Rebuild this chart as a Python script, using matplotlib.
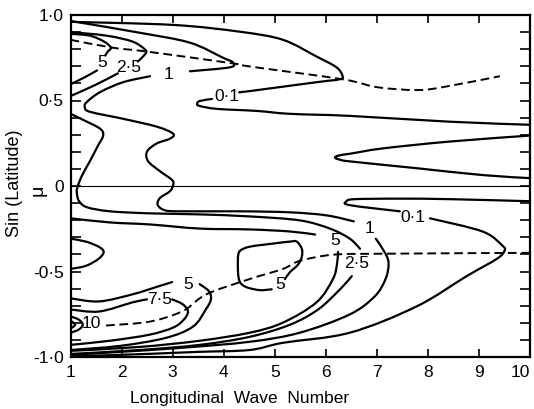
import numpy as np
import matplotlib
matplotlib.use("Agg")
import matplotlib.pyplot as plt
from matplotlib.path import Path
from matplotlib.patches import PathPatch

nan = np.nan

# ---------------- traced contour lines (x = wave number, y = mu) ----------------
# upper hemisphere 0.1 contour (gap at label)
c01u_x = [1.0, 3.01, 4.32, 5.16, 5.82, 6.21, 6.33, 6.27, 5.82, 4.51, 4.32, nan, 3.77, 3.53, 3.48, 3.53, 3.87, 4.65, 5.30, 6.47, 8.43, 10.0]
c01u_y = [0.96, 0.942, 0.902, 0.855, 0.757, 0.694, 0.642, 0.624, 0.607, 0.555, 0.549, nan, 0.509, 0.497, 0.480, 0.468, 0.451, 0.439, 0.422, 0.410, 0.376, 0.358]
# equatorial 0.1 tongue
c01e_x = [10.0, 8.43, 7.12, 6.5, 6.25, 6.18, 6.3, 6.5, 7.78, 9.07, 10.0]
c01e_y = [0.295, 0.26, 0.22, 0.19, 0.178, 0.165, 0.152, 0.143, 0.104, 0.064, 0.046]
# southern 0.1 contour
c01s_x = [10.0, 8.43, 7.45, 6.57, 6.41, 6.47, 7.45, nan, 8.04, 9.07, 9.46, 9.50, 9.35, 8.76, 7.78, 6.47, 5.16, 4.51, 3.5, 2.5, 1.6, 1.0]
c01s_y = [-0.089, -0.077, -0.074, -0.077, -0.089, -0.112, -0.148, nan, -0.189, -0.266, -0.349, -0.379, -0.426, -0.527, -0.704, -0.858, -0.917, -0.959, -0.970, -0.982, -0.991, -0.997]
# the 1 contour
c1_x = [1.0, 2.36, 3.34, 3.98, 4.18, 4.12, 3.34, nan, 2.56, 2.03, 1.58, 1.32, 1.28, 1.38, 2.03, 2.69, 3.01, 2.95, 2.69, 2.50, 2.52, 2.75, 2.99, 3.01,
        2.95, 2.75, 2.71, 2.85, 3.14, 4.32, 5.30, 6.02, 6.55, nan, 6.98, 7.17, 7.23, 7.17, 6.96, 6.47, 5.49, 4.51, 3.14, 1.97, 1.0]
c1_y = [0.965, 0.896, 0.838, 0.751, 0.723, 0.694, 0.671, nan, 0.642, 0.607, 0.549, 0.491, 0.462, 0.434, 0.393, 0.347, 0.306, 0.277, 0.249, 0.202, 0.145, 0.087, 0.035, 0.006,
        -0.030, -0.071, -0.112, -0.142, -0.148, -0.148, -0.154, -0.172, -0.207, nan, -0.308, -0.396, -0.456, -0.544, -0.645, -0.751, -0.858, -0.911, -0.947, -0.970, -0.988]
# 2.5 contours
c25u_x = [1.0, 1.71, 2.22, 2.46, 2.48, 2.42, 2.32, nan, 1.93, 1.48, 1.0]
c25u_y = [0.90, 0.879, 0.844, 0.798, 0.780, 0.757, 0.728, nan, 0.659, 0.590, 0.526]
c25s_x = [1.0, 1.28, 1.58, 1.64, 1.54, 1.38, 1.23, 1.13, 1.13, 1.17, 1.32, 1.77, 2.56, 3.53, 4.51, 5.49, 6.08, 6.47, 6.67, nan,
          6.51, 6.28, 5.85, 5.30, 4.51, 3.53, 2.36, 1.0]
c25s_y = [0.422, 0.382, 0.335, 0.295, 0.237, 0.145, 0.064, -0.012, -0.053, -0.089, -0.124, -0.148, -0.160, -0.166, -0.178, -0.201, -0.249, -0.308, -0.367, nan,
          -0.527, -0.604, -0.722, -0.811, -0.882, -0.929, -0.959, -0.982]
# 5 contours
c5u_x = [1.0, 1.38, 1.66, 1.79, 1.73, 1.68, nan, 1.52, 1.28, 1.0]
c5u_y = [0.89, 0.879, 0.844, 0.809, 0.786, 0.763, nan, 0.676, 0.636, 0.595]
c5s_x = [1.0, 1.77, 2.56, 3.53, 4.51, 5.30, 5.79, nan, 6.24, 6.22, 6.14, 5.82, 5.16, 4.51, 3.53, 2.36, 1.0]
c5s_y = [-0.189, -0.213, -0.225, -0.249, -0.254, -0.266, -0.284, nan, -0.385, -0.456, -0.544, -0.680, -0.799, -0.858, -0.905, -0.941, -0.964]
c5i_x = [4.28, 4.32, 4.51, 4.96, 5.30, 5.43, 5.53, 5.53, 5.45, 5.30, 5.20, nan, 4.94, 4.71, 4.45, 4.32, 4.28, 4.28]
c5i_y = [-0.414, -0.379, -0.355, -0.337, -0.325, -0.325, -0.367, -0.414, -0.462, -0.503, -0.544, nan, -0.604, -0.609, -0.592, -0.562, -0.503, -0.414]
c5l_x = [1.0, 1.30, 1.55, 1.65, 1.55, 1.30, 1.0]
c5l_y = [-0.308, -0.325, -0.355, -0.385, -0.426, -0.467, -0.485]
c5p_x = [1.0, 1.56, 2.22, 2.73, 2.99, nan, 3.53, 3.71, 3.75, 3.65, 3.40, 2.87, 1.97, 1.0]
c5p_y = [-0.657, -0.675, -0.633, -0.586, -0.562, nan, -0.574, -0.615, -0.663, -0.722, -0.822, -0.888, -0.935, -0.959]
# 7.5 and 10
c75_x = [1.0, 1.56, 2.22, 2.50, nan, 2.99, 3.20, 3.30, 3.22, 3.01, 2.54, 1.77, 1.0]
c75_y = [-0.722, -0.734, -0.680, -0.663, nan, -0.663, -0.692, -0.734, -0.781, -0.828, -0.870, -0.905, -0.929]
c10_x = [1.0, 1.16, 1.24, 1.16, 1.0]
c10_y = [-0.763, -0.781, -0.811, -0.840, -0.858]
c10i_x = [1.0, 1.09, 1.0]
c10i_y = [-0.787, -0.811, -0.834]

# dashed ridge lines
dn_x = [1.0, 1.82, 2.50, 4.18, 4.51, 6.33, 7.00, 7.78, 8.29, 9.41]
dn_y = [0.855, 0.809, 0.786, 0.717, 0.699, 0.624, 0.578, 0.561, 0.578, 0.642]
ds_x = [10.0, 7.12, 6.14, 5.49, 5.16, 4.51, 3.67, 3.26, 2.87, 2.42, 1.64]
ds_y = [-0.391, -0.396, -0.402, -0.438, -0.485, -0.544, -0.632, -0.721, -0.769, -0.799, -0.817]

# contour labels
lab_text = ["0·1", "0·1", "1", "1", "2·5", "2·5", "5", "5", "5", "5", "7·5", "10"]
lab_x = [4.06, 7.70, 2.91, 6.86, 2.14, 6.61, 1.62, 6.18, 5.10, 3.30, 2.75, 1.40]
lab_y = [0.526, -0.183, 0.653, -0.249, 0.694, -0.456, 0.723, -0.320, -0.574, -0.574, -0.663, -0.805]

x_ticks = list(range(1, 11))
y_tick_vals = [1.0, 0.5, 0.0, -0.5, -1.0]
y_tick_labels = ["1·0", "0·5", "0", "-0·5", "-1·0"]


# ---------------- drawing ----------------
def smooth_path(xs, ys):
    """Path through the traced points, drawn with cubic Bezier pieces."""
    xs = np.asarray(xs, float)
    ys = np.asarray(ys, float)
    segs, cur = [], []
    for x, y in zip(xs, ys):
        if np.isnan(x):
            if cur:
                segs.append(cur)
            cur = []
        else:
            cur.append((x, y))
    if cur:
        segs.append(cur)
    verts, codes = [], []
    for seg in segs:
        P = np.array(seg)
        n = len(P)
        verts.append(P[0])
        codes.append(Path.MOVETO)
        for i in range(n - 1):
            p0 = P[i - 1] if i > 0 else P[i]
            p1, p2 = P[i], P[i + 1]
            p3 = P[i + 2] if i + 2 < n else P[i + 1]
            verts += [p1 + (p2 - p0) / 6.0, p2 - (p3 - p1) / 6.0, p2]
            codes += [Path.CURVE4] * 3
    return Path(verts, codes)


plt.rcParams["font.family"] = ["Liberation Sans", "DejaVu Sans"]

W, H = 534, 409
fig = plt.figure(figsize=(W / 100, H / 100), dpi=100)
ax = fig.add_axes([70.5 / W, 1 - 357 / H, (530 - 70.5) / W, (357 - 15) / H])
ax.set_xlim(1, 10)
ax.set_ylim(-1, 1)

solid = [(c01u_x, c01u_y), (c01e_x, c01e_y), (c01s_x, c01s_y), (c1_x, c1_y),
         (c25u_x, c25u_y), (c25s_x, c25s_y), (c5u_x, c5u_y), (c5s_x, c5s_y),
         (c5i_x, c5i_y), (c5l_x, c5l_y), (c5p_x, c5p_y), (c75_x, c75_y),
         (c10_x, c10_y), (c10i_x, c10i_y)]
for xs, ys in solid:
    ax.add_patch(PathPatch(smooth_path(xs, ys), fill=False, edgecolor="black",
                           lw=1.6, joinstyle="round", capstyle="round"))

for xs, ys in [(dn_x, dn_y), (ds_x, ds_y)]:
    ax.add_patch(PathPatch(smooth_path(xs, ys), fill=False, edgecolor="black",
                           lw=1.4, linestyle=(0, (4.5, 2.4))))

ax.axhline(0, color="black", lw=0.8)

for t, x, y in zip(lab_text, lab_x, lab_y):
    ax.text(x, y, t, fontsize=12.5, ha="center", va="center")

for sp in ax.spines.values():
    sp.set_linewidth(1.6)

ax.set_xticks(x_ticks)
ax.set_xticklabels([str(v) for v in x_ticks], fontsize=12.5)
ax.tick_params(axis="x", direction="in", length=5.5, width=1.2, top=True, pad=6)
minor = np.round(np.arange(-1.0, 1.01, 0.1), 2)
ax.set_yticks(minor)
lbl = []
for v in minor:
    hit = [s for tv, s in zip(y_tick_vals, y_tick_labels) if abs(tv - v) < 1e-6]
    lbl.append(hit[0] if hit else "")
ax.set_yticklabels(lbl, fontsize=12.5)
ax.tick_params(axis="y", direction="in", length=7, width=1.2, right=True, pad=5)
xl = ax.get_xticklabels()
xl[-1].set_horizontalalignment("right")

fig.text(240 / W, 1 - 398 / H, "Longitudinal  Wave  Number", fontsize=12.5, ha="center", va="center")
fig.text(15 / W, 1 - 183 / H, "Sin (Latitude)", fontsize=13, rotation=90, ha="center", va="center")
fig.text(38 / W, 1 - 190 / H, "μ", fontsize=14, rotation=90, ha="center", va="center")

fig.savefig("out.png", dpi=100)
